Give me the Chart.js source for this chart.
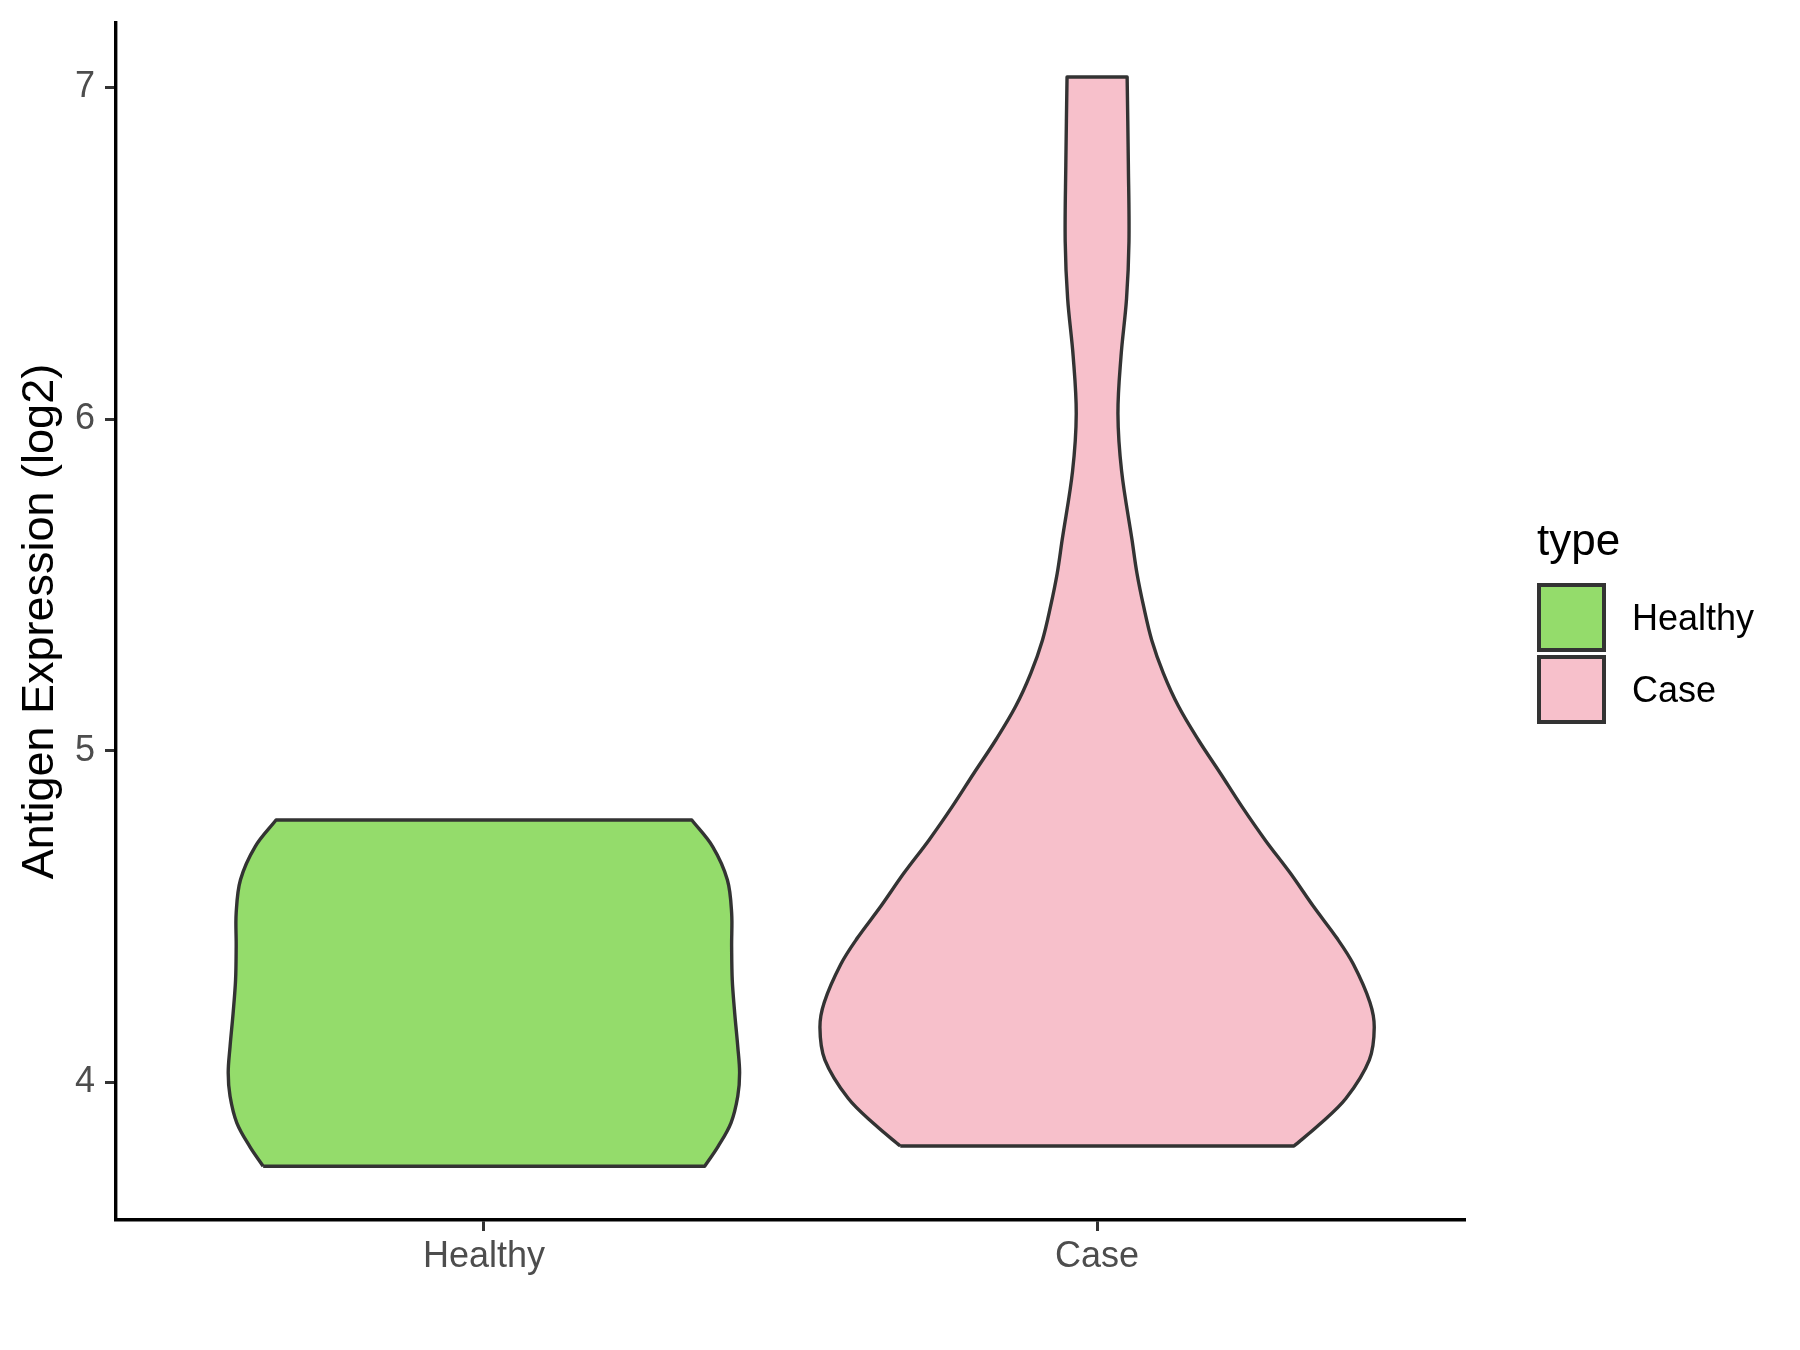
<!DOCTYPE html>
<html>
<head>
<meta charset="utf-8">
<script src="https://cdn.jsdelivr.net/npm/chart.js@4.4.1/dist/chart.umd.min.js"></script>
<style>
  html, body { margin: 0; padding: 0; background: #fff; }
  #wrap { width: 1800px; height: 1350px; }
</style>
</head>
<body>
<div id="wrap"><canvas id="violinChart" width="1800" height="1350"></canvas></div>
<script>
// categories on the discrete x axis
const categories = ["Healthy", "Case"];
const categoryPos = [1, 2];
const fillColors = ["#94DC6B", "#F7C0CB"];

// violin outlines: y (log2) and half-width (category units)
const healthyY = [3.747, 3.807, 3.878, 3.958, 4.029, 4.108, 4.209, 4.309, 4.41, 4.511, 4.611, 4.711, 4.791];
const healthyHalfWidth = [0.360, 0.382, 0.403, 0.414, 0.417, 0.414, 0.409, 0.405, 0.404, 0.404, 0.397, 0.373, 0.339];

const caseY = [3.808, 3.872, 3.952, 4.068, 4.166, 4.241, 4.356, 4.435, 4.530, 4.631, 4.731, 4.832, 4.932, 5.033, 5.133, 5.234, 5.334, 5.434, 5.535, 5.635, 5.843, 6.016, 6.189, 6.362, 6.535, 6.766, 7.031];
const caseHalfWidth = [0.321, 0.362, 0.406, 0.444, 0.452, 0.445, 0.418, 0.391, 0.353, 0.315, 0.274, 0.236, 0.201, 0.165, 0.133, 0.108, 0.089, 0.076, 0.065, 0.057, 0.040, 0.034, 0.039, 0.048, 0.052, 0.051, 0.049];

const yTicks = [4, 5, 6, 7];
const yMin = 3.585;
const yMax = 7.194;

const FONT = '"Liberation Sans", Arial, sans-serif';

// closed outline: bottom edge, up the right side, top edge, down the left side
// corner points are doubled so the spline keeps sharp corners
function outline(center, ys, hws) {
  const n = ys.length;
  const pts = [];
  pts.push({ x: center - hws[0], y: ys[0] });
  pts.push({ x: center + hws[0], y: ys[0] });
  pts.push({ x: center + hws[0], y: ys[0] });
  for (let i = 1; i < n - 1; i++) pts.push({ x: center + hws[i], y: ys[i] });
  pts.push({ x: center + hws[n - 1], y: ys[n - 1] });
  pts.push({ x: center + hws[n - 1], y: ys[n - 1] });
  pts.push({ x: center - hws[n - 1], y: ys[n - 1] });
  pts.push({ x: center - hws[n - 1], y: ys[n - 1] });
  for (let i = n - 2; i > 0; i--) pts.push({ x: center - hws[i], y: ys[i] });
  pts.push({ x: center - hws[0], y: ys[0] });
  pts.push({ x: center - hws[0], y: ys[0] });
  return pts;
}

// legend on the right, drawn like ggplot's
const typeLegend = {
  id: "typeLegend",
  afterDraw(chart) {
    const ctx = chart.ctx;
    ctx.save();
    ctx.fillStyle = "#000";
    ctx.font = "44px " + FONT;
    ctx.textBaseline = "alphabetic";
    ctx.textAlign = "left";
    ctx.fillText("type", 1537, 555);
    categories.forEach((name, i) => {
      const top = 585 + i * 72;
      ctx.fillStyle = fillColors[i];
      ctx.fillRect(1539, top, 65, 65);
      ctx.lineWidth = 4;
      ctx.strokeStyle = "#333333";
      ctx.strokeRect(1539, top, 65, 65);
      ctx.fillStyle = "#000";
      ctx.font = "36px " + FONT;
      ctx.textBaseline = "middle";
      ctx.fillText(name, 1632, top + 35);
    });
    ctx.restore();
  }
};

new Chart(document.getElementById("violinChart").getContext("2d"), {
  type: "line",
  data: {
    datasets: [
      {
        label: categories[0],
        data: outline(categoryPos[0], healthyY, healthyHalfWidth),
        backgroundColor: fillColors[0],
        borderColor: "#333333",
        borderWidth: 3.4,
        fill: "shape",
        tension: 0.35,
        pointRadius: 0,
        borderJoinStyle: "round"
      },
      {
        label: categories[1],
        data: outline(categoryPos[1], caseY, caseHalfWidth),
        backgroundColor: fillColors[1],
        borderColor: "#333333",
        borderWidth: 3.4,
        fill: "shape",
        tension: 0.35,
        pointRadius: 0,
        borderJoinStyle: "round"
      }
    ]
  },
  options: {
    responsive: false,
    animation: false,
    devicePixelRatio: 1,
    layout: { padding: { top: 23, right: 335, left: 0, bottom: 0 } },
    plugins: {
      legend: { display: false },
      tooltip: { enabled: false }
    },
    scales: {
      x: {
        type: "linear",
        min: 0.4,
        max: 2.6,
        afterBuildTicks: (s) => { s.ticks = categoryPos.map(v => ({ value: v })); },
        afterFit: (s) => { s.height = 130; s.paddingLeft = 0; s.paddingRight = 0; },
        ticks: {
          callback: (v) => categories[categoryPos.indexOf(v)],
          color: "#4D4D4D",
          font: { size: 36, family: FONT },
          padding: 4,
          maxRotation: 0
        },
        grid: { drawOnChartArea: false, tickLength: 11, tickWidth: 3, tickColor: "#333333" },
        border: { display: true, color: "#000", width: 3.4 }
      },
      y: {
        type: "linear",
        min: yMin,
        max: yMax,
        afterBuildTicks: (s) => { s.ticks = yTicks.map(v => ({ value: v })); },
        afterFit: (s) => { s.width = 116; s.paddingTop = 0; s.paddingBottom = 0; },
        ticks: {
          color: "#4D4D4D",
          font: { size: 36, family: FONT },
          padding: 10
        },
        grid: { drawOnChartArea: false, tickLength: 11, tickWidth: 3, tickColor: "#333333" },
        border: { display: true, color: "#000", width: 3.4 },
        title: {
          display: true,
          text: "Antigen Expression (log2)",
          color: "#000",
          font: { size: 45, family: FONT },
          padding: { top: 14, bottom: 0 }
        }
      }
    }
  },
  plugins: [typeLegend]
});
</script>
</body>
</html>
